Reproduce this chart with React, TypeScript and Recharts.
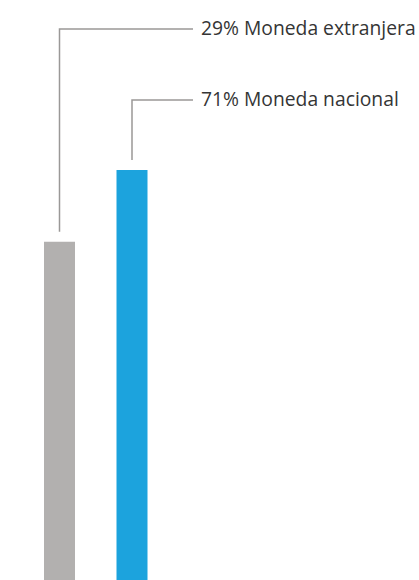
import { Bar, BarChart, Cell, LabelList, XAxis, YAxis } from "recharts";

const categories = ["Moneda extranjera", "Moneda nacional"];
const shares = [29, 71];
// bar lengths as drawn (they are not proportional to the shares)
const barLengths = [58.3, 70.7];
const colors = ["#b2b0af", "#1ca3dd"];

const data = categories.map((name, i) => ({ name, share: shares[i], value: barLengths[i] }));

// where each leader line turns towards its text
const calloutY = [29, 100];
const lineEndX = 193;
const textX = 201;

function Callout(props: any) {
  const { x, y, width, index } = props;
  const cx = x + width / 2;
  const ly = calloutY[index];
  const d = data[index];
  return (
    <g>
      <path
        d={`M${cx},${y - 10} L${cx},${ly} L${lineEndX},${ly}`}
        fill="none"
        stroke="#9a9897"
        strokeWidth={1.5}
      />
      <text x={textX} y={ly + 6} fill="#353535" fontSize={19.3} fontFamily="'Open Sans', sans-serif">
        {`${d.share}% ${d.name}`}
      </text>
    </g>
  );
}

export default function App() {
  return (
    <div style={{ position: "absolute", left: 0, top: 0, width: 419, height: 580, background: "#fff" }}>
      <BarChart
        width={419}
        height={580}
        data={data}
        margin={{ top: 0, right: 251, bottom: 0, left: 23 }}
      >
        <XAxis dataKey="name" hide />
        <YAxis hide domain={[0, 100]} />
        <Bar dataKey="value" barSize={31} isAnimationActive={false}>
          {data.map((_, i) => (
            <Cell key={`cell-${i}`} fill={colors[i]} />
          ))}
          <LabelList dataKey="value" content={Callout} />
        </Bar>
      </BarChart>
    </div>
  );
}
